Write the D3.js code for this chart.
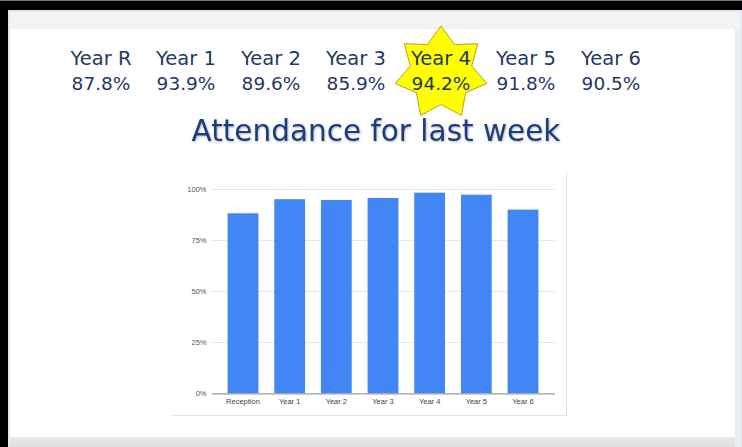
<!DOCTYPE html>
<html>
<head>
<meta charset="utf-8">
<script src="https://cdn.jsdelivr.net/npm/d3@7"></script>
<style>
  html, body { margin: 0; padding: 0; background: #000; }
  svg { display: block; }
</style>
</head>
<body>
<script>
// summary row above the chart
const yearGroups = ["Year R", "Year 1", "Year 2", "Year 3", "Year 4", "Year 5", "Year 6"];
const yearRates = [87.8, 93.9, 89.6, 85.9, 94.2, 91.8, 90.5];
const bestYear = "Year 4";

// bar chart
const categories = ["Reception", "Year 1", "Year 2", "Year 3", "Year 4", "Year 5", "Year 6"];
const attendance = [88.1, 95.0, 94.6, 95.6, 98.2, 97.2, 89.9];
const yTicks = [0, 25, 50, 75, 100];

const W = 742, H = 447;

const svg = d3.select("body").append("svg")
  .attr("width", W)
  .attr("height", H);

// window frame / slide background
svg.append("rect").attr("width", W).attr("height", H).attr("fill", "#000");
svg.append("rect").attr("x", 0).attr("y", 0).attr("width", W).attr("height", 1).attr("fill", "#7a7a7a");
svg.append("rect").attr("x", 8).attr("y", 10).attr("width", W - 8).attr("height", H - 10).attr("fill", "#dfe7f3");
svg.append("rect").attr("x", 10).attr("y", 12).attr("width", W - 11).attr("height", H - 12).attr("fill", "#f3f3f3");

const defs = svg.append("defs");
const grad = defs.append("linearGradient").attr("id", "shadeB").attr("x1", 0).attr("y1", 0).attr("x2", 0).attr("y2", 1);
grad.append("stop").attr("offset", 0).attr("stop-color", "#e9e9e9");
grad.append("stop").attr("offset", 1).attr("stop-color", "#dedede");
svg.append("rect").attr("x", 10).attr("y", 437).attr("width", W - 11).attr("height", 10).attr("fill", "url(#shadeB)");
svg.append("rect").attr("x", 735).attr("y", 29).attr("width", 6).attr("height", 418).attr("fill", "#ececec");
svg.append("rect").attr("x", 10).attr("y", 29).attr("width", 725).attr("height", 408).attr("fill", "#fff");

const shadow = defs.append("filter").attr("id", "soft").attr("x", "-5%").attr("y", "-20%").attr("width", "110%").attr("height", "140%");
shadow.append("feDropShadow").attr("dx", 0.8).attr("dy", 1).attr("stdDeviation", 1)
  .attr("flood-color", "#5a6a90").attr("flood-opacity", 0.5);

// summary row
const px = d3.scalePoint().domain(yearGroups).range([101, 611]);

// 7 point star behind the best year
const starR = 47, starr = 31.5, cx = px(bestYear), cy = 73;
const starPts = d3.range(14).map(i => {
  const a = -Math.PI / 2 + i * Math.PI / 7;
  const r = i % 2 ? starr : starR;
  return [cx + r * Math.cos(a), cy + r * Math.sin(a)];
});
svg.append("path")
  .attr("d", "M" + starPts.join("L") + "Z")
  .attr("fill", "#ffff00")
  .attr("stroke", "#b8a21c")
  .attr("stroke-width", 1);

const txtFont = "'DejaVu Sans', sans-serif";
svg.append("g").selectAll("text")
  .data(yearGroups)
  .join("text")
  .attr("x", d => px(d))
  .attr("y", 65)
  .attr("text-anchor", "middle")
  .attr("font-family", txtFont)
  .attr("font-size", 19.5)
  .attr("fill", "#1f3864")
  .text(d => d);

svg.append("g").selectAll("text")
  .data(yearRates)
  .join("text")
  .attr("x", (d, i) => px(yearGroups[i]))
  .attr("y", 90)
  .attr("text-anchor", "middle")
  .attr("font-family", txtFont)
  .attr("font-size", 18.5)
  .attr("fill", "#1f3864")
  .text(d => d.toFixed(1) + "%");

// title
svg.append("text")
  .attr("x", 376)
  .attr("y", 141)
  .attr("text-anchor", "middle")
  .attr("font-family", txtFont)
  .attr("font-size", 29.5)
  .attr("fill", "#1d3c7c")
  .attr("filter", "url(#soft)")
  .text("Attendance for last week");

// chart image frame
const frame = svg.append("g").attr("stroke", "#e4e4e4").attr("stroke-width", 1);
frame.append("line").attr("x1", 566.5).attr("x2", 566.5).attr("y1", 172).attr("y2", 416);
frame.append("line").attr("x1", 172).attr("x2", 567).attr("y1", 415.5).attr("y2", 415.5);

const x = d3.scaleBand()
  .domain(categories)
  .range([211.5, 554.5])
  .paddingInner(0.34)
  .paddingOuter(0.345);

const y = d3.scaleLinear()
  .domain([0, 100])
  .range([393.3, 189]);

const chartFont = "'Liberation Sans', Arial, sans-serif";

// gridlines + y labels
const yAxis = svg.append("g")
  .attr("transform", "translate(211.5,0)")
  .call(d3.axisLeft(y).tickValues(yTicks).tickSize(0).tickPadding(5).tickFormat(d => d + "%"));
yAxis.select(".domain").remove();
yAxis.selectAll("text")
  .attr("font-family", chartFont)
  .attr("font-size", 7.5)
  .attr("fill", "#555");

svg.append("g").selectAll("line")
  .data(yTicks.filter(d => d > 0))
  .join("line")
  .attr("x1", 211.5)
  .attr("x2", 554.5)
  .attr("y1", d => Math.round(y(d)) + 0.5)
  .attr("y2", d => Math.round(y(d)) + 0.5)
  .attr("stroke", "#e8e8e8");

// bars
svg.append("g").selectAll("rect")
  .data(attendance)
  .join("rect")
  .attr("x", (d, i) => x(categories[i]))
  .attr("width", x.bandwidth())
  .attr("y", d => y(d))
  .attr("height", d => y(0) - y(d))
  .attr("fill", "#4285f4");

// baseline + x labels
const xAxis = svg.append("g")
  .attr("transform", "translate(0," + y(0) + ")")
  .call(d3.axisBottom(x).tickSize(0).tickPadding(5));
xAxis.select(".domain").attr("stroke", "#9a9a9a").attr("stroke-width", 1.2);
xAxis.selectAll("text")
  .attr("font-family", chartFont)
  .attr("font-size", 7.5)
  .attr("fill", "#444");
</script>
</body>
</html>
